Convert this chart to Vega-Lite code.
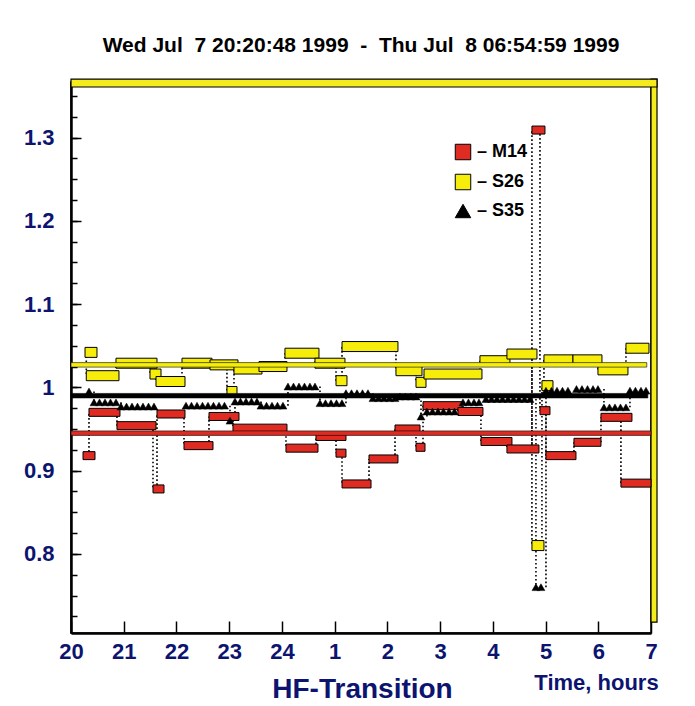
{
 "$schema": "https://vega.github.io/schema/vega-lite/v6.json",
 "width": 580, "height": 551,
 "autosize": {"type": "none"},
 "padding": {"left": 71, "top": 82, "right": 44, "bottom": 73},
 "background": "white",
 "title": {"text": "Wed Jul \u00a07 20:20:48 1999 \u00a0- \u00a0Thu Jul \u00a08 06:54:59 1999", "font": "Liberation Sans", "fontSize": 21, "fontWeight": "bold", "color": "black", "anchor": "middle", "offset": 6, "baseline": "alphabetic"},
 "config": {"view": {"stroke": "black", "strokeWidth": 1.5}, "font": "Liberation Sans"},
 "resolve": {"axis": {"x": "independent", "y": "independent"}},
 "datasets": {
  "means": [
   {"s": "M14", "t0": 20, "t1": 31, "v": 0.945},
   {"s": "S26", "t0": 20, "t1": 30.92, "v": 1.027},
   {"s": "S35", "t0": 20, "t1": 30.94, "v": 0.990}
  ],
  "seg": [
   {"s":"M14","t0":20.228,"t1":20.455,"v":0.918},
   {"s":"M14","t0":20.341,"t1":20.929,"v":0.970},
   {"s":"M14","t0":20.872,"t1":21.612,"v":0.954},
   {"s":"M14","t0":21.555,"t1":21.764,"v":0.878},
   {"s":"M14","t0":21.631,"t1":22.162,"v":0.968},
   {"s":"M14","t0":22.143,"t1":22.693,"v":0.930},
   {"s":"M14","t0":22.617,"t1":23.186,"v":0.965},
   {"s":"M14","t0":23.072,"t1":24.096,"v":0.951},
   {"s":"M14","t0":24.077,"t1":24.684,"v":0.927},
   {"s":"M14","t0":24.646,"t1":25.215,"v":0.941},
   {"s":"M14","t0":25.026,"t1":25.215,"v":0.921},
   {"s":"M14","t0":25.140,"t1":25.690,"v":0.884},
   {"s":"M14","t0":25.652,"t1":26.201,"v":0.914},
   {"s":"M14","t0":26.145,"t1":26.619,"v":0.950},
   {"s":"M14","t0":26.543,"t1":26.714,"v":0.928},
   {"s":"M14","t0":26.676,"t1":27.415,"v":0.978},
   {"s":"M14","t0":27.339,"t1":27.813,"v":0.971},
   {"s":"M14","t0":27.775,"t1":28.363,"v":0.935},
   {"s":"M14","t0":28.268,"t1":28.875,"v":0.926},
   {"s":"M14","t0":28.742,"t1":28.989,"v":1.309},
   {"s":"M14","t0":28.894,"t1":29.084,"v":0.972},
   {"s":"M14","t0":29.008,"t1":29.577,"v":0.918},
   {"s":"M14","t0":29.539,"t1":30.051,"v":0.934},
   {"s":"M14","t0":30.051,"t1":30.639,"v":0.964},
   {"s":"M14","t0":30.430,"t1":31.0,"v":0.885},
   {"s":"S26","t0":20.266,"t1":20.493,"v":1.042},
   {"s":"S26","t0":20.29,"t1":20.910,"v":1.014},
   {"s":"S26","t0":20.853,"t1":21.631,"v":1.029},
   {"s":"S26","t0":21.498,"t1":21.707,"v":1.016},
   {"s":"S26","t0":21.612,"t1":22.162,"v":1.007},
   {"s":"S26","t0":22.105,"t1":22.674,"v":1.029},
   {"s":"S26","t0":22.636,"t1":23.167,"v":1.027},
   {"s":"S26","t0":22.958,"t1":23.148,"v":0.995},
   {"s":"S26","t0":23.091,"t1":23.622,"v":1.022},
   {"s":"S26","t0":23.565,"t1":24.096,"v":1.025},
   {"s":"S26","t0":24.058,"t1":24.703,"v":1.041},
   {"s":"S26","t0":24.627,"t1":25.196,"v":1.029},
   {"s":"S26","t0":25.026,"t1":25.234,"v":1.008},
   {"s":"S26","t0":25.140,"t1":26.201,"v":1.049},
   {"s":"S26","t0":26.163,"t1":26.657,"v":1.020},
   {"s":"S26","t0":26.543,"t1":26.733,"v":1.006},
   {"s":"S26","t0":26.695,"t1":27.794,"v":1.016},
   {"s":"S26","t0":27.756,"t1":28.325,"v":1.032},
   {"s":"S26","t0":28.268,"t1":28.837,"v":1.040},
   {"s":"S26","t0":28.742,"t1":28.970,"v":0.810},
   {"s":"S26","t0":28.932,"t1":29.141,"v":1.002},
   {"s":"S26","t0":28.970,"t1":29.520,"v":1.033},
   {"s":"S26","t0":29.520,"t1":30.070,"v":1.033},
   {"s":"S26","t0":29.994,"t1":30.563,"v":1.021},
   {"s":"S26","t0":30.525,"t1":30.962,"v":1.047},
   {"s":"S35","t0":20.341,"v":0.995},
   {"s":"S35","t0":20.436,"v":0.982},{"s":"S35","t0":20.540,"v":0.982},{"s":"S35","t0":20.645,"v":0.982},{"s":"S35","t0":20.749,"v":0.982},{"s":"S35","t0":20.853,"v":0.982},
   {"s":"S35","t0":20.948,"v":0.977},{"s":"S35","t0":21.053,"v":0.977},{"s":"S35","t0":21.157,"v":0.977},{"s":"S35","t0":21.261,"v":0.977},{"s":"S35","t0":21.365,"v":0.977},{"s":"S35","t0":21.470,"v":0.977},{"s":"S35","t0":21.574,"v":0.977},
   {"s":"S35","t0":22.181,"v":0.978},{"s":"S35","t0":22.285,"v":0.978},{"s":"S35","t0":22.390,"v":0.978},{"s":"S35","t0":22.494,"v":0.978},{"s":"S35","t0":22.598,"v":0.978},{"s":"S35","t0":22.702,"v":0.978},{"s":"S35","t0":22.807,"v":0.978},{"s":"S35","t0":22.911,"v":0.978},
   {"s":"S35","t0":23.015,"v":0.960},
   {"s":"S35","t0":23.110,"v":0.983},{"s":"S35","t0":23.214,"v":0.983},{"s":"S35","t0":23.319,"v":0.983},{"s":"S35","t0":23.423,"v":0.983},{"s":"S35","t0":23.527,"v":0.983},
   {"s":"S35","t0":23.603,"v":0.978},{"s":"S35","t0":23.708,"v":0.978},{"s":"S35","t0":23.812,"v":0.978},{"s":"S35","t0":23.916,"v":0.978},{"s":"S35","t0":24.020,"v":0.978},
   {"s":"S35","t0":24.115,"v":1.001},{"s":"S35","t0":24.220,"v":1.001},{"s":"S35","t0":24.324,"v":1.001},{"s":"S35","t0":24.428,"v":1.001},{"s":"S35","t0":24.532,"v":1.001},{"s":"S35","t0":24.627,"v":1.001},
   {"s":"S35","t0":24.722,"v":0.981},{"s":"S35","t0":24.826,"v":0.981},{"s":"S35","t0":24.931,"v":0.981},{"s":"S35","t0":25.035,"v":0.981},{"s":"S35","t0":25.139,"v":0.981},
   {"s":"S35","t0":25.215,"v":0.993},{"s":"S35","t0":25.320,"v":0.993},{"s":"S35","t0":25.424,"v":0.993},{"s":"S35","t0":25.528,"v":0.993},{"s":"S35","t0":25.632,"v":0.993},
   {"s":"S35","t0":25.727,"v":0.987},{"s":"S35","t0":25.832,"v":0.987},{"s":"S35","t0":25.936,"v":0.987},{"s":"S35","t0":26.040,"v":0.987},{"s":"S35","t0":26.144,"v":0.987},
   {"s":"S35","t0":26.239,"v":0.989},{"s":"S35","t0":26.344,"v":0.989},{"s":"S35","t0":26.448,"v":0.989},{"s":"S35","t0":26.543,"v":0.989},
   {"s":"S35","t0":26.638,"v":0.965},
   {"s":"S35","t0":26.751,"v":0.971},{"s":"S35","t0":26.856,"v":0.971},{"s":"S35","t0":26.960,"v":0.971},{"s":"S35","t0":27.064,"v":0.971},{"s":"S35","t0":27.169,"v":0.971},{"s":"S35","t0":27.273,"v":0.971},
   {"s":"S35","t0":27.434,"v":0.982},{"s":"S35","t0":27.538,"v":0.982},{"s":"S35","t0":27.643,"v":0.982},{"s":"S35","t0":27.737,"v":0.982},
   {"s":"S35","t0":27.870,"v":0.986},{"s":"S35","t0":27.975,"v":0.986},{"s":"S35","t0":28.079,"v":0.986},{"s":"S35","t0":28.183,"v":0.986},{"s":"S35","t0":28.288,"v":0.986},{"s":"S35","t0":28.392,"v":0.986},{"s":"S35","t0":28.496,"v":0.986},{"s":"S35","t0":28.601,"v":0.986},{"s":"S35","t0":28.705,"v":0.986},
   {"s":"S35","t0":28.818,"v":0.760},{"s":"S35","t0":28.913,"v":0.760},
   {"s":"S35","t0":29.008,"v":0.996},{"s":"S35","t0":29.112,"v":0.996},{"s":"S35","t0":29.217,"v":0.996},{"s":"S35","t0":29.321,"v":0.996},{"s":"S35","t0":29.425,"v":0.996},
   {"s":"S35","t0":29.587,"v":0.998},{"s":"S35","t0":29.691,"v":0.998},{"s":"S35","t0":29.796,"v":0.998},{"s":"S35","t0":29.900,"v":0.998},{"s":"S35","t0":29.994,"v":0.998},
   {"s":"S35","t0":30.108,"v":0.976},{"s":"S35","t0":30.212,"v":0.976},{"s":"S35","t0":30.317,"v":0.976},{"s":"S35","t0":30.421,"v":0.976},{"s":"S35","t0":30.525,"v":0.976},
   {"s":"S35","t0":30.601,"v":0.996},{"s":"S35","t0":30.705,"v":0.996},{"s":"S35","t0":30.810,"v":0.996},{"s":"S35","t0":30.905,"v":0.996}
  ]
 },
 "layer": [
  {
   "data": {"values": [{}]},
   "mark": {"type": "rect", "fill": "#f4ec1c", "stroke": "black", "strokeWidth": 1.2},
   "encoding": {
    "x": {"datum": 31, "type": "quantitative", "axis": null, "scale": {"domain": [20, 31], "nice": false, "zero": false}},
    "x2": {"datum": 31.114},
    "y": {"datum": 0.718, "type": "quantitative", "axis": null, "scale": {"domain": [0.711, 1.3607], "nice": false, "zero": false}},
    "y2": {"datum": 1.3701}
   }
  },
  {
   "data": {"values": [{}]},
   "mark": {"type": "rect", "fill": "#f4ec1c", "stroke": "black", "strokeWidth": 1.2},
   "encoding": {
    "x": {"datum": 20.0, "type": "quantitative", "axis": null},
    "x2": {"datum": 31.114},
    "y": {"datum": 1.3607, "type": "quantitative", "axis": null},
    "y2": {"datum": 1.3701}
   }
  },
  {
   "data": {"name": "seg"},
   "transform": [
    {"window": [{"op": "lead", "field": "v", "as": "vn"}, {"op": "lead", "field": "t0", "as": "tn"}], "groupby": ["s"], "sort": [{"field": "t0", "order": "ascending"}]},
    {"filter": "datum.tn != null"}
   ],
   "mark": {"type": "rule", "color": "black", "strokeWidth": 1.6, "strokeDash": [1.6, 2.4]},
   "encoding": {
    "x": {"field": "tn", "type": "quantitative", "axis": null},
    "y": {"field": "v", "type": "quantitative", "axis": null},
    "y2": {"field": "vn"}
   }
  },
  {
   "data": {"name": "seg"},
   "transform": [{"filter": "datum.s == 'S26'"}],
   "mark": {"type": "bar", "size": 10, "fill": "#f6ee0a", "stroke": "black", "strokeWidth": 1},
   "encoding": {
    "x": {"field": "t0", "type": "quantitative", "axis": {"orient": "bottom", "values": [20,21,22,23,24,25,26,27,28,29,30,31], "labelExpr": "toString(datum.value > 24 ? datum.value - 24 : datum.value)", "tickSize": -12, "tickWidth": 1.5, "tickColor": "black", "domain": true, "domainColor": "black", "domainWidth": 2.5, "labelFont": "Liberation Sans", "labelFontWeight": "bold", "labelFontSize": 22, "labelColor": "#0c1470", "labelPadding": 20, "labelFlush": false, "labelOverlap": false, "labelBound": false, "grid": false, "title": "HF-Transition", "titleFont": "Liberation Sans", "titleFontSize": 28, "titleFontWeight": "bold", "titleColor": "#0c1470", "titleX": 291, "titleY": 64, "titleAlign": "center", "titleBaseline": "alphabetic"}},
    "x2": {"field": "t1"},
    "y": {"field": "v", "type": "quantitative", "axis": {"orient": "left", "values": [0.8, 0.9, 1, 1.1, 1.2, 1.3], "labelExpr": "datum.value == 1 ? '1' : format(datum.value, '.1f')", "tickSize": -10, "tickWidth": 1.5, "tickColor": "black", "domain": true, "domainColor": "black", "domainWidth": 2.5, "labelFont": "Liberation Sans", "labelFontWeight": "bold", "labelFontSize": 22, "labelColor": "#0c1470", "labelPadding": 27, "labelFlush": false, "labelOverlap": false, "grid": false, "title": null}}
   }
  },
  {
   "data": {"name": "seg"},
   "transform": [{"filter": "datum.s == 'M14'"}],
   "mark": {"type": "bar", "size": 8, "fill": "#e02b22", "stroke": "black", "strokeWidth": 1},
   "encoding": {
    "x": {"field": "t0", "type": "quantitative", "axis": {"orient": "bottom", "labels": false, "ticks": false, "domain": false, "grid": false, "title": "Time, hours", "titleFont": "Liberation Sans", "titleFontSize": 22, "titleFontWeight": "bold", "titleColor": "#0c1470", "titleX": 525, "titleY": 56, "titleAlign": "center", "titleBaseline": "alphabetic"}},
    "x2": {"field": "t1"},
    "y": {"field": "v", "type": "quantitative", "axis": {"orient": "left", "values": [0.725,0.75,0.775,0.8,0.825,0.85,0.875,0.9,0.925,0.95,0.975,1,1.025,1.05,1.075,1.1,1.125,1.15,1.175,1.2,1.225,1.25,1.275,1.3,1.325,1.35], "labels": false, "tickSize": -6, "tickWidth": 1.5, "tickColor": "black", "domain": false, "grid": false, "title": null}}
   }
  },
  {
   "data": {"name": "seg"},
   "transform": [{"filter": "datum.s == 'S35'"}],
   "mark": {"type": "point", "filled": true, "opacity": 1, "size": 62, "stroke": "black", "strokeWidth": 0.5},
   "encoding": {
    "x": {"field": "t0", "type": "quantitative", "axis": null},
    "y": {"field": "v", "type": "quantitative", "axis": null},
    "color": {"field": "s", "type": "nominal", "scale": {"domain": ["M14", "S26", "S35"], "range": ["#e02b22", "#f6ee0a", "#000000"]}, "legend": {"title": null, "orient": "none", "legendX": 383, "legendY": 61, "labelExpr": "'\u2013 ' + datum.label", "labelFont": "Liberation Sans", "labelFontWeight": "bold", "labelFontSize": 18, "labelColor": "black", "symbolSize": 240, "symbolStrokeColor": "black", "symbolStrokeWidth": 1, "rowPadding": 10, "labelOffset": 5, "padding": 0}},
    "shape": {"field": "s", "type": "nominal", "scale": {"domain": ["M14", "S26", "S35"], "range": ["square", "square", "triangle-up"]}, "legend": {"title": null, "orient": "none", "legendX": 383, "legendY": 61, "labelExpr": "'\u2013 ' + datum.label", "labelFont": "Liberation Sans", "labelFontWeight": "bold", "labelFontSize": 18, "labelColor": "black", "symbolSize": 240, "symbolStrokeColor": "black", "symbolStrokeWidth": 1, "rowPadding": 10, "labelOffset": 5, "padding": 0}}
   }
  },
  {
   "data": {"name": "means"},
   "mark": {"type": "bar", "size": 4.5, "stroke": "black", "strokeWidth": 0.6},
   "encoding": {
    "x": {"field": "t0", "type": "quantitative", "axis": null},
    "x2": {"field": "t1"},
    "y": {"field": "v", "type": "quantitative", "axis": null},
    "fill": {"field": "s", "type": "nominal", "scale": {"domain": ["M14", "S26", "S35"], "range": ["#e02b22", "#f6ee0a", "#000000"]}, "legend": null}
   }
  }
 ]
}
